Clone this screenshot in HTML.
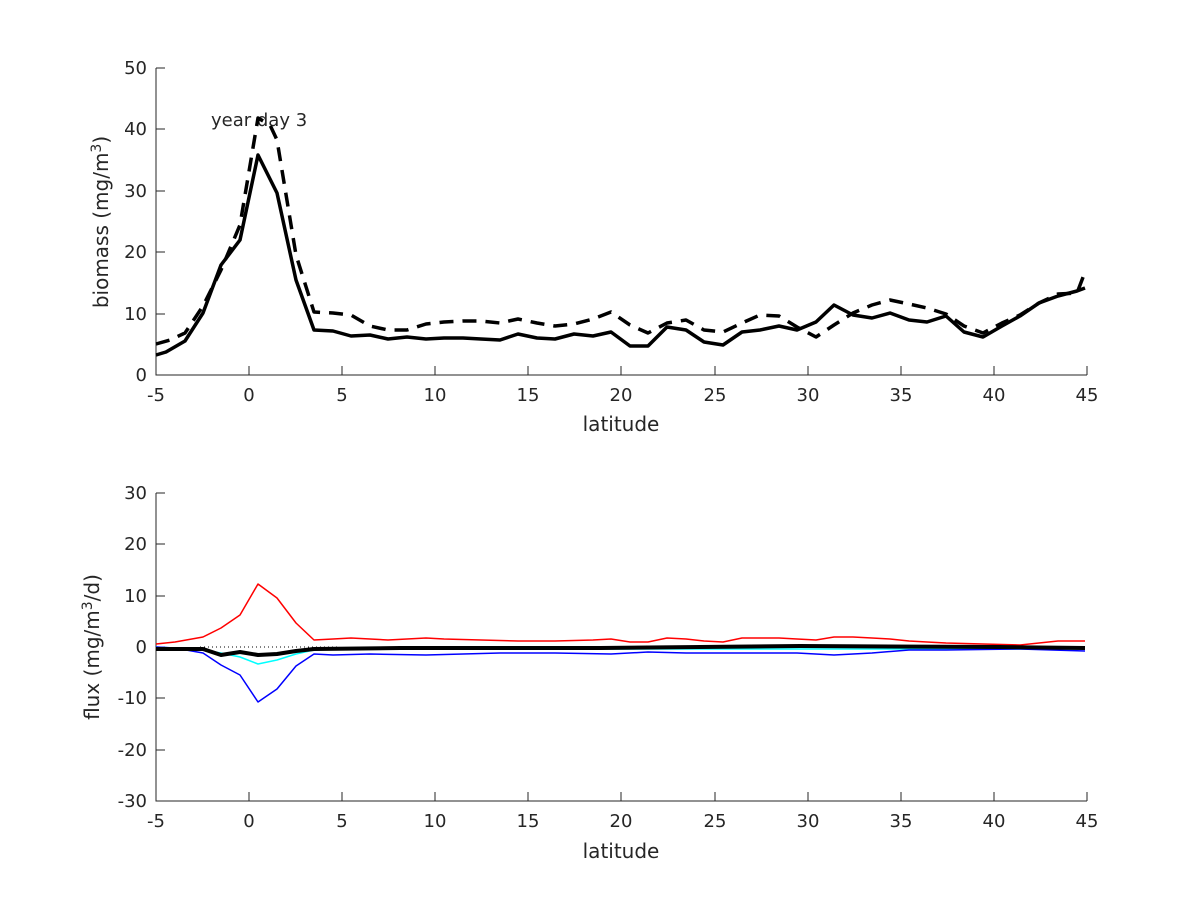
<!DOCTYPE html>
<html><head><meta charset="utf-8"><style>body{margin:0;background:#fff}svg{display:block}text{font-family:"DejaVu Sans","Liberation Sans",sans-serif;fill:#262626}</style></head><body>
<svg width="1200" height="900" viewBox="0 0 1200 900">
<rect width="1200" height="900" fill="#fff"/>
<g stroke="#262626" stroke-width="1" fill="none">
<path d="M156,68V375H1087"/>
<path d="M156,493V801H1087"/>
</g>
<g stroke="#262626" stroke-width="1">
<path d="M156,375v-9M249,375v-9M342,375v-9M435,375v-9M528,375v-9M621,375v-9M715,375v-9M808,375v-9M901,375v-9M994,375v-9M1087,375v-9"/>
<path d="M156,68h9M156,129h9M156,191h9M156,252h9M156,314h9"/>
<path d="M156,801v-9M249,801v-9M342,801v-9M435,801v-9M528,801v-9M621,801v-9M715,801v-9M808,801v-9M901,801v-9M994,801v-9M1087,801v-9"/>
<path d="M156,493h9M156,544h9M156,596h9M156,647h9M156,698h9M156,750h9"/>
</g>
<g font-size="18" text-anchor="middle">
<text x="156" y="401">-5</text><text x="249" y="401">0</text><text x="342" y="401">5</text><text x="435" y="401">10</text><text x="528" y="401">15</text><text x="621" y="401">20</text><text x="715" y="401">25</text><text x="808" y="401">30</text><text x="901" y="401">35</text><text x="994" y="401">40</text><text x="1087" y="401">45</text>
<text x="156" y="827">-5</text><text x="249" y="827">0</text><text x="342" y="827">5</text><text x="435" y="827">10</text><text x="528" y="827">15</text><text x="621" y="827">20</text><text x="715" y="827">25</text><text x="808" y="827">30</text><text x="901" y="827">35</text><text x="994" y="827">40</text><text x="1087" y="827">45</text>
<text x="621" y="431" font-size="20">latitude</text>
<text x="621" y="858" font-size="20">latitude</text>
</g>
<g font-size="18" text-anchor="end">
<text x="147" y="74">50</text><text x="147" y="135">40</text><text x="147" y="197">30</text><text x="147" y="258">20</text><text x="147" y="320">10</text><text x="147" y="381">0</text>
<text x="147" y="499">30</text><text x="147" y="550">20</text><text x="147" y="602">10</text><text x="147" y="653">0</text><text x="147" y="704">-10</text><text x="147" y="756">-20</text><text x="147" y="807">-30</text>
</g>
<text transform="translate(108,222) rotate(-90)" font-size="20" text-anchor="middle">biomass (mg/m<tspan font-size="14" dy="-7">3</tspan><tspan dy="7">)</tspan></text>
<text transform="translate(99,647) rotate(-90)" font-size="20" text-anchor="middle">flux (mg/m<tspan font-size="14" dy="-7">3</tspan><tspan dy="7">/d)</tspan></text>
<text x="211" y="126" font-size="18">year day 3</text>
<g fill="none" stroke="#000" stroke-width="3.5" stroke-linejoin="round">
<polyline points="156,355 166,352 185,341 203,313 221,265 240,240 258,155 277,193 296,280 314,330 333,331 351,336 370,335 388,339 407,337 426,339 444,338 463,338 481,339 500,340 518,334 537,338 555,339 574,334 593,336 611,332 630,346 648,346 667,327 686,330 704,342 723,345 742,332 760,330 779,326 797,330 816,322 834,305 853,315 872,318 890,313 909,320 927,322 946,316 964,332 983,337 1002,326 1020,316 1039,303 1058,296 1077,291 1085,288"/>
<polyline stroke-dasharray="14,9" points="156,344 170,340 185,333 203,306 221,270 240,225 258,118 270,125 277,140 296,255 314,312 333,313 351,315 370,326 388,330 407,330 426,324 444,322 463,321 481,321 500,323 518,319 537,323 555,326 574,324 593,319 611,312 630,325 648,333 667,323 686,320 704,330 723,332 742,323 760,315 779,316 797,327 816,337 834,325 853,313 872,305 890,300 909,304 927,308 946,314 964,326 983,333 1002,323 1020,315 1039,303 1058,294 1077,293 1085,272"/>
</g>
<g fill="none" stroke-width="1.5" stroke-linejoin="round">
<path d="M200,647H340" stroke="#000" stroke-width="1" stroke-dasharray="1,3"/>
<polyline stroke="#00ffff" points="156,647 203,650 221,653 240,657 258,664 277,660 296,654 314,650 350,649 1085,649"/>
<polyline stroke="#0000ff" points="156,647 175,648 203,653 221,665 240,675 258,702 277,689 296,666 314,654 333,655 370,654 426,655 500,653 555,653 611,654 648,652 686,653 742,653 797,653 834,655 872,653 909,650 946,650 1020,649 1085,651"/>
<polyline stroke="#ff0000" points="156,644 175,642 203,637 221,628 240,615 258,584 277,598 296,623 314,640 333,639 351,638 370,639 388,640 407,639 426,638 444,639 481,640 518,641 555,641 593,640 611,639 630,642 648,642 667,638 686,639 704,641 723,642 742,638 779,638 797,639 816,640 834,637 853,637 872,638 890,639 909,641 927,642 946,643 983,644 1020,645 1058,641 1085,641"/>
<polyline stroke="#000" stroke-width="4" points="156,649 203,649 221,655 240,652 258,655 277,654 296,651 314,649 400,648 500,648 600,648 700,647 800,646 1000,647 1085,648"/>
</g>
</svg>
</body></html>
